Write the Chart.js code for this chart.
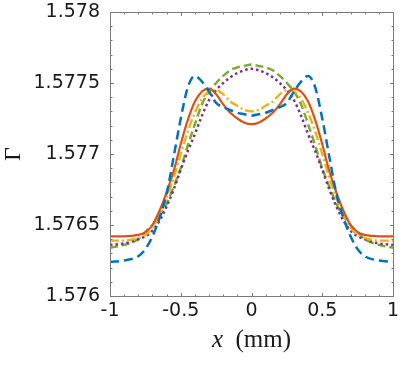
<!DOCTYPE html>
<html>
<head>
<meta charset="utf-8">
<script src="https://cdn.jsdelivr.net/npm/chart.js@4/dist/chart.umd.min.js"></script>
<style>
html,body{margin:0;padding:0;background:#fff;}
#wrap{width:407px;height:370px;position:relative;}
</style>
</head>
<body>
<div id="wrap"><canvas id="c" width="407" height="370"></canvas></div>
<script>
// ---- data ----
const xs = [-1, -0.9, -0.8, -0.75, -0.7, -0.65, -0.6, -0.55, -0.5, -0.45, -0.4, -0.35, -0.3, -0.25, -0.2, -0.15, -0.1, -0.05, 0,
            0.05, 0.1, 0.15, 0.2, 0.25, 0.3, 0.35, 0.4, 0.45, 0.5, 0.55, 0.6, 0.65, 0.7, 0.75, 0.8, 0.9, 1];
const blueVals = [1.57624, 1.57625, 1.57628, 1.57633, 1.57642, 1.57655, 1.57672, 1.57698, 1.57725, 1.57747, 1.57755, 1.57751, 1.57744, 1.57736, 1.57733, 1.57731, 1.57729, 1.57728, 1.57727,
                  1.57728, 1.57729, 1.57731, 1.57733, 1.57736, 1.57744, 1.57751, 1.57755, 1.57747, 1.57725, 1.57698, 1.57672, 1.57655, 1.57642, 1.57633, 1.57628, 1.57625, 1.57624];
const orangeVals = [1.57642, 1.57642, 1.57643, 1.57645, 1.57650, 1.57660, 1.57673, 1.57688, 1.57707, 1.57724, 1.57737, 1.57744, 1.57746, 1.57742, 1.57735, 1.57729, 1.57725, 1.57722, 1.57721,
                    1.57722, 1.57725, 1.57729, 1.57735, 1.57742, 1.57746, 1.57744, 1.57737, 1.57724, 1.57707, 1.57688, 1.57673, 1.57660, 1.57650, 1.57645, 1.57643, 1.57642, 1.57642];
const yellowVals = [1.57639, 1.57639, 1.57641, 1.57643, 1.57648, 1.57657, 1.57669, 1.57683, 1.57700, 1.57716, 1.57729, 1.57739, 1.57744, 1.57745, 1.57742, 1.57737, 1.57734, 1.57731, 1.57730,
                    1.57731, 1.57734, 1.57737, 1.57742, 1.57745, 1.57744, 1.57739, 1.57729, 1.57716, 1.57700, 1.57683, 1.57669, 1.57657, 1.57648, 1.57643, 1.57641, 1.57639, 1.57639];
const purpleVals = [1.57636, 1.57637, 1.57640, 1.57642, 1.57646, 1.57653, 1.57663, 1.57675, 1.57689, 1.57702, 1.57714, 1.57727, 1.57738, 1.57745, 1.57750, 1.57754, 1.57757, 1.57759, 1.57760,
                    1.57759, 1.57757, 1.57754, 1.57750, 1.57745, 1.57738, 1.57727, 1.57714, 1.57702, 1.57689, 1.57675, 1.57663, 1.57653, 1.57646, 1.57642, 1.57640, 1.57637, 1.57636];
const greenVals = [1.57634, 1.57636, 1.57640, 1.57645, 1.57650, 1.57656, 1.57665, 1.57677, 1.57690, 1.57706, 1.57721, 1.57735, 1.57744, 1.57750, 1.57755, 1.57759, 1.57761, 1.57762, 1.57763,
                   1.57762, 1.57761, 1.57759, 1.57755, 1.57750, 1.57744, 1.57735, 1.57721, 1.57706, 1.57690, 1.57677, 1.57665, 1.57656, 1.57650, 1.57645, 1.57640, 1.57636, 1.57634];
const xTickVals = [-1, -0.5, 0, 0.5, 1];
const xTickLabels = ['-1', '-0.5', '0', '0.5', '1'];
const yTickVals = [1.576, 1.5765, 1.577, 1.5775, 1.578];
const yTickLabels = ['1.576', '1.5765', '1.577', '1.5775', '1.578'];
const xMinorVals = [-0.9,-0.8,-0.7,-0.6,-0.4,-0.3,-0.2,-0.1,0.1,0.2,0.3,0.4,0.6,0.7,0.8,0.9];
const yMinorVals = [1.5761,1.5762,1.5763,1.5764,1.5766,1.5767,1.5768,1.5769,1.5771,1.5772,1.5773,1.5774,1.5776,1.5777,1.5778,1.5779];

const pts = v => xs.map((x, i) => ({x: x, y: v[i]}));
const tickFont = {family: 'DejaVu Sans', size: 19};

const axesPlugin = {
  id: 'axesBox',
  afterDatasetsDraw(chart) {
    const {ctx, chartArea: a, scales: {x, y}} = chart;
    ctx.save();
    ctx.strokeStyle = '#7a7a7a';
    ctx.lineWidth = 1;
    const L = Math.round(a.left) + 0.5, R = Math.round(a.right) + 0.5, T = Math.round(a.top) + 0.5, B = Math.round(a.bottom) + 0.5;
    ctx.strokeRect(L, T, R - L, B - T);
    ctx.beginPath();
    const major = 3.5, minor = 2;
    xTickVals.concat(xMinorVals).forEach((v, i) => {
      const len = i < xTickVals.length ? major : minor;
      const px = Math.round(x.getPixelForValue(v)) + 0.5;
      ctx.moveTo(px, B); ctx.lineTo(px, B - len);
      ctx.moveTo(px, T); ctx.lineTo(px, T + len);
    });
    yTickVals.concat(yMinorVals).forEach((v, i) => {
      const len = i < yTickVals.length ? major : minor;
      const py = Math.round(y.getPixelForValue(v)) + 0.5;
      ctx.moveTo(L, py); ctx.lineTo(L + len, py);
      ctx.moveTo(R, py); ctx.lineTo(R - len, py);
    });
    ctx.stroke();
    // axis titles
    ctx.fillStyle = '#1a1a1a';
    ctx.textBaseline = 'alphabetic';
    const cx = (a.left + a.right) / 2;
    const f1 = 'italic 25px "Liberation Serif"';
    const f2 = '25px "Liberation Serif"';
    ctx.font = f1; const w1 = ctx.measureText('x').width;
    ctx.font = f2; const w2 = ctx.measureText('  (mm)').width;
    const sx = cx - (w1 + w2) / 2;
    ctx.font = f1; ctx.fillText('x', sx, 347);
    ctx.font = f2; ctx.fillText('  (mm)', sx + w1, 347);
    ctx.translate(20, (a.top + a.bottom) / 2);
    ctx.rotate(-Math.PI / 2);
    ctx.textAlign = 'center';
    ctx.font = '24px "Liberation Serif"';
    ctx.fillText('\u0393', 0, 0);
    ctx.restore();
  }
};

new Chart(document.getElementById('c'), {
  type: 'line',
  data: {
    datasets: [
      {label: 'a', data: pts(blueVals), borderColor: '#0072BD', borderWidth: 2.5, borderDash: [9, 5]},
      {label: 'b', data: pts(orangeVals), borderColor: '#D95319', borderWidth: 2.2},
      {label: 'c', data: pts(yellowVals), borderColor: '#EDB120', borderWidth: 2.4, borderDash: [9, 3, 2, 3]},
      {label: 'd', data: pts(purpleVals), borderColor: '#7E2F8E', borderWidth: 2.5, borderDash: [2.5, 3]},
      {label: 'e', data: pts(greenVals), borderColor: '#77AC30', borderWidth: 2.5, borderDash: [8, 4]}
    ].map(d => Object.assign(d, {pointRadius: 0, fill: false, cubicInterpolationMode: 'monotone'}))
  },
  options: {
    responsive: false,
    animation: false,
    layout: {padding: {top: 12, right: 14, left: 0, bottom: 0}},
    plugins: {legend: {display: false}, tooltip: {enabled: false}},
    scales: {
      x: {
        type: 'linear', min: -1, max: 1,
        grid: {display: false, drawTicks: false},
        border: {display: false},
        afterBuildTicks: s => { s.ticks = xTickVals.map(v => ({value: v})); },
        afterFit: s => { s.height = 74; s.paddingLeft = 0; s.paddingRight = 0; },
        ticks: {color: '#1a1a1a', font: tickFont, padding: 4, maxRotation: 0, autoSkip: false,
                callback: (v) => xTickLabels[xTickVals.indexOf(v)]}
      },
      y: {
        type: 'linear', min: 1.576, max: 1.578,
        grid: {display: false, drawTicks: false},
        border: {display: false},
        afterBuildTicks: s => { s.ticks = yTickVals.map(v => ({value: v})); },
        afterFit: s => { s.width = 110; s.paddingTop = 0; s.paddingBottom = 0; },
        ticks: {color: '#1a1a1a', font: tickFont, padding: 10, autoSkip: false,
                callback: (v) => yTickLabels[yTickVals.findIndex(t => Math.abs(t - v) < 1e-9)]}
      }
    }
  },
  plugins: [axesPlugin]
});
</script>
</body>
</html>
